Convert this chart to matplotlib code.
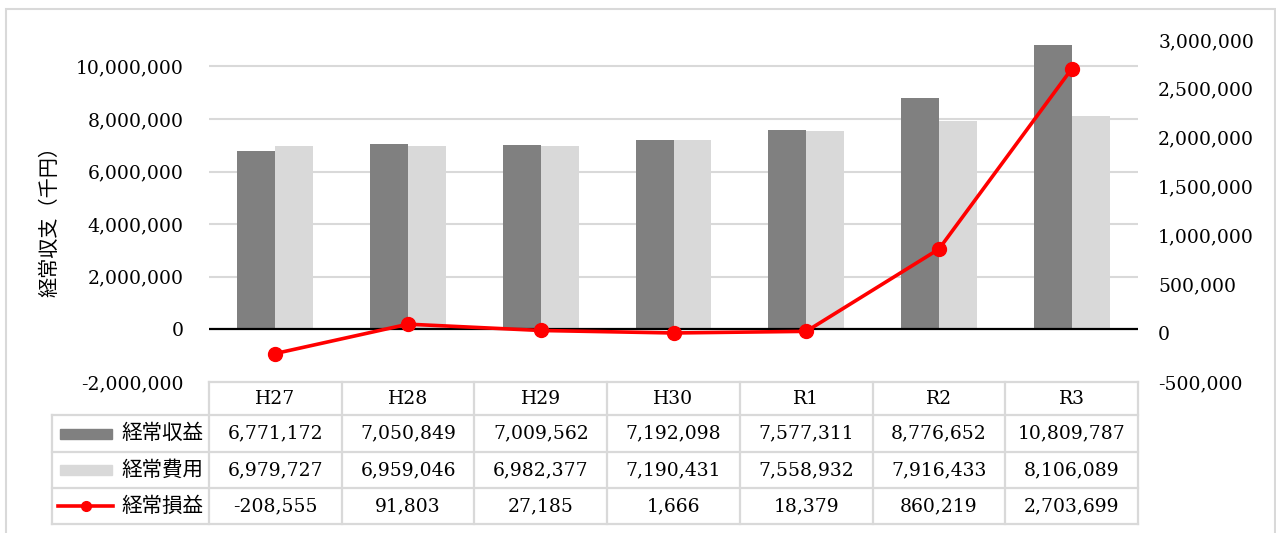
import matplotlib
matplotlib.use("Agg")
import matplotlib.pyplot as plt
from matplotlib.lines import Line2D
from matplotlib.patches import Rectangle
from matplotlib.ticker import FuncFormatter
import numpy as np

plt.rcParams['font.family'] = ['DejaVu Serif', 'Noto Sans CJK JP']

categories = ["H27", "H28", "H29", "H30", "R1", "R2", "R3"]
revenue = [6771172, 7050849, 7009562, 7192098, 7577311, 8776652, 10809787]
expense = [6979727, 6959046, 6982377, 7190431, 7558932, 7916433, 8106089]
profit = [-208555, 91803, 27185, 1666, 18379, 860219, 2703699]
series_names = ["経常収益", "経常費用", "経常損益"]

DARK = "#808080"
LIGHT = "#D9D9D9"
RED = "#FF0000"
GRID = "#D9D9D9"

W, H = 1276, 533
fig = plt.figure(figsize=(W / 100, H / 100), dpi=100)


def fx(x):
    return x / W


def fy(y):
    return 1 - y / H


# plot area in pixel terms
x0, x1, ytop, ybot = 209, 1138, 40, 382
ax = fig.add_axes([fx(x0), fy(ybot), fx(x1 - x0), (ybot - ytop) / H])
ax2 = ax.twinx()

x = np.arange(len(categories))
w = 0.286
ax.bar(x - w / 2, revenue, w, color=DARK, zorder=2)
ax.bar(x + w / 2, expense, w, color=LIGHT, zorder=2)
ax.set_xlim(-0.5, len(categories) - 0.5)
ax.set_ylim(-2000000, 11000000)
ax.set_yticks(np.arange(-2000000, 10000001, 2000000))
for v in range(2000000, 10000001, 2000000):
    ax.axhline(v, color=GRID, lw=1.5, zorder=1)
ax.axhline(0, color="black", lw=1.6, zorder=3)

ax2.plot(x, profit, color=RED, lw=2.6, marker="o", ms=10, zorder=4)
ax2.set_ylim(-500000, 3000000)
ax2.set_yticks(np.arange(-500000, 3000001, 500000))

fmt = FuncFormatter(lambda v, p: f"{int(v):,}")
for a, pad in ((ax, 18.5), (ax2, 14.5)):
    a.yaxis.set_major_formatter(fmt)
    a.tick_params(axis="y", length=0, pad=pad, labelsize=13.5)
    a.set_xticks([])
    for s in a.spines.values():
        s.set_visible(False)

fig.text(fx(50), fy(217), "経常収支（千円）", rotation=90, ha="center",
         va="center", fontsize=14.5)

# data table below the plot
col_w = (x1 - x0) / len(categories)
rows = [ybot, 415, 452, 488, 524]
leg_x = 52
lkw = dict(color=GRID, lw=1.6, transform=fig.transFigure)
fig.add_artist(Line2D([fx(x0), fx(x1)], [fy(rows[0])] * 2, **lkw))
for r in rows[1:]:
    fig.add_artist(Line2D([fx(leg_x), fx(x1)], [fy(r)] * 2, **lkw))
for i in range(len(categories) + 1):
    xc = x0 + i * col_w
    fig.add_artist(Line2D([fx(xc)] * 2, [fy(rows[0]), fy(rows[-1])], **lkw))
fig.add_artist(Line2D([fx(leg_x)] * 2, [fy(rows[1]), fy(rows[-1])], **lkw))

for i, c in enumerate(categories):
    xc = x0 + (i + 0.5) * col_w
    fig.text(fx(xc), fy((rows[0] + rows[1]) / 2), c, ha="center",
             va="center", fontsize=13.5)
    for j, vals in enumerate((revenue, expense, profit)):
        yc = (rows[j + 1] + rows[j + 2]) / 2
        fig.text(fx(xc), fy(yc), f"{vals[i]:,}", ha="center", va="center",
                 fontsize=13.5)

# legend keys
for j, name in enumerate(series_names):
    yc = (rows[j + 1] + rows[j + 2]) / 2
    fig.text(fx(203), fy(yc), name, ha="right", va="center", fontsize=14.8)
    if j < 2:
        fig.add_artist(Rectangle((fx(60), fy(yc + 5)), fx(52), 10 / H,
                                 color=(DARK, LIGHT)[j],
                                 transform=fig.transFigure))
    else:
        fig.add_artist(Line2D([fx(58), fx(113)], [fy(yc)] * 2, color=RED,
                              lw=2.6, transform=fig.transFigure))
        fig.add_artist(Line2D([fx(85.5)], [fy(yc)], color=RED, marker="o",
                              ms=7, transform=fig.transFigure))

# outer chart frame
fig.add_artist(Rectangle((fx(6), fy(545)), fx(1269), (545 - 9) / H,
                         fill=False, edgecolor=GRID, lw=1.5,
                         transform=fig.transFigure))

fig.savefig("out.png", dpi=100)
